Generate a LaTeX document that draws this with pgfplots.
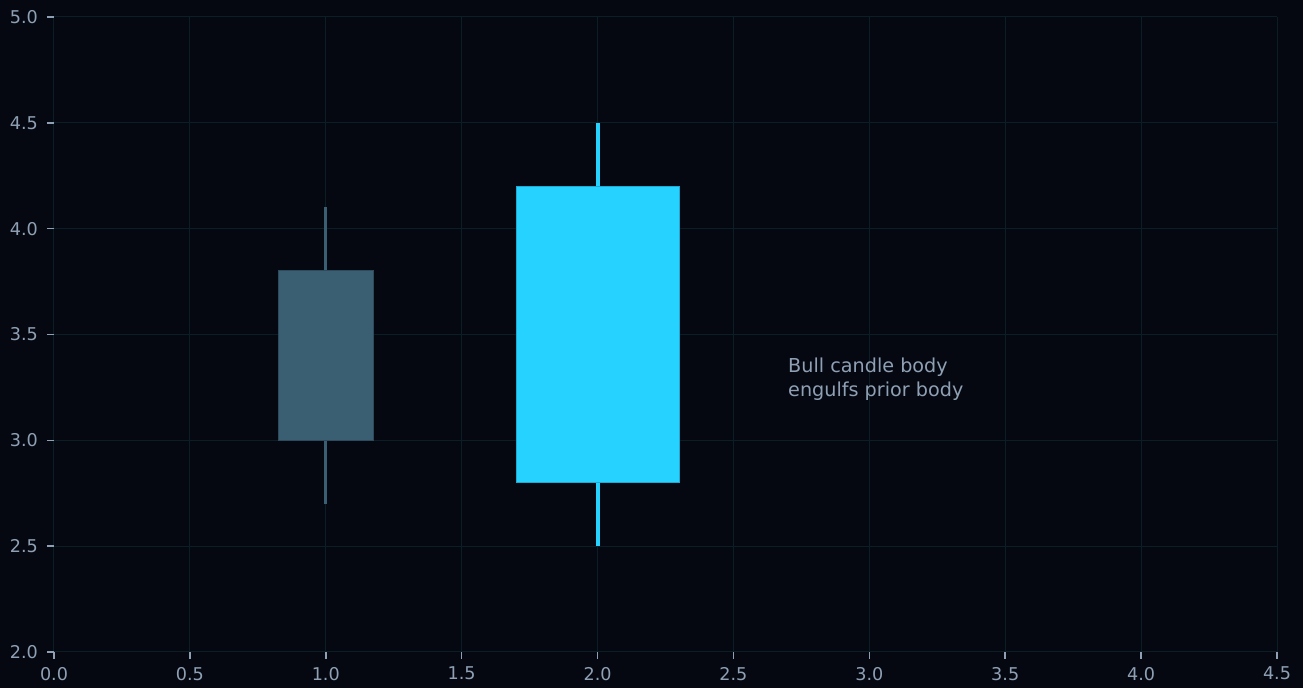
\documentclass[border=0pt]{standalone}
\usepackage{fontspec}
\setmainfont{DejaVu Sans}
\usepackage{pgfplots}
\pgfplotsset{compat=1.18}

\definecolor{bg}{RGB}{5,8,17}
\definecolor{gridc}{RGB}{11,30,38}
\definecolor{txt}{RGB}{143,160,180}
\definecolor{bearc}{RGB}{58,95,115}
\definecolor{bearedge}{RGB}{45,75,92}
\definecolor{bullc}{RGB}{38,210,255}
\definecolor{bulledge}{RGB}{30,170,210}

\begin{document}
\begin{tikzpicture}
% background, sets the page size
\fill[bg] (-27pt,-18pt) rectangle (624.5pt,326pt);
\begin{axis}[
    scale only axis,
    width=611.5pt, height=317.5pt,
    xmin=0, xmax=4.5, ymin=2, ymax=5,
    xtick={0,0.5,...,4.5}, ytick={2,2.5,...,5},
    /pgf/number format/.cd, fixed, fixed zerofill, precision=1, assume math mode=true,
    /pgfplots/.cd,
    axis line style={draw=none},
    xtick pos=bottom, ytick pos=left, tick align=outside,
    major tick length=3.5pt,
    every tick/.style={txt, line width=0.75pt},
    ticklabel style={font=\fontsize{8.8}{10}\selectfont, text=txt},
    xticklabel style={yshift=-0.5pt},
    yticklabel style={xshift=-1pt},
    grid=major,
    major grid style={gridc, line width=0.5pt},
    clip=false,
]
% prior (bear) candle
\addplot[bearc, line width=1.5pt] coordinates {(1,2.7) (1,4.1)};
\addplot[fill=bearc, draw=bearedge, line width=0.5pt] coordinates {(0.825,3.0) (1.175,3.0) (1.175,3.8) (0.825,3.8)} -- cycle;
% bull engulfing candle
\addplot[bullc, line width=2pt] coordinates {(2,2.5) (2,4.5)};
\addplot[fill=bullc, draw=bulledge, line width=0.5pt] coordinates {(1.7,2.8) (2.3,2.8) (2.3,4.2) (1.7,4.2)} -- cycle;

\node[anchor=west, align=left, text=txt, font=\fontsize{9.6}{12}\selectfont, inner sep=0pt]
  at (axis cs:2.70,3.29) {Bull candle body\\engulfs prior body};
\end{axis}
\end{tikzpicture}
\end{document}
